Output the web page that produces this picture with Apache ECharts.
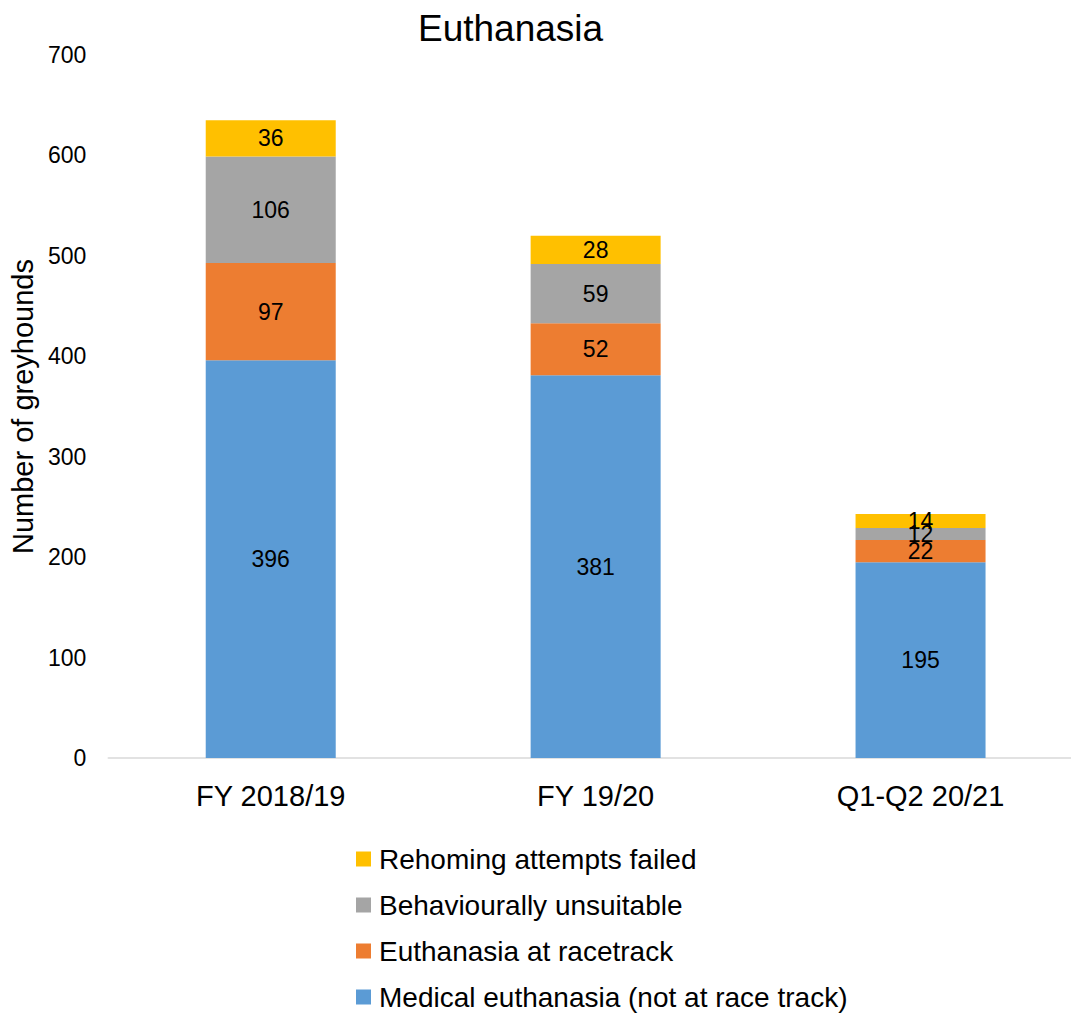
<!DOCTYPE html>
<html>
<head>
<meta charset="utf-8">
<script src="https://cdn.jsdelivr.net/npm/echarts@6/dist/echarts.min.js"></script>
<style>
  html, body { margin: 0; padding: 0; background: #fff; overflow: hidden; }
  #chartContainer { width: 1100px; height: 1015px; }
</style>
</head>
<body>
<div id="chartContainer"></div>
<script>
// data
const categories = ['FY 2018/19', 'FY 19/20', 'Q1-Q2 20/21'];
const medical = [396, 381, 195];
const racetrack = [97, 52, 22];
const behavioural = [106, 59, 12];
const rehoming = [36, 28, 14];
const yTicks = [0, 700, 100]; // min, max, step

const fontFamily = '"Liberation Sans", Arial, sans-serif';

var myChart = echarts.init(document.getElementById('chartContainer'), null, { renderer: 'svg' });

function makeSeries(name, data, color) {
    return {
        name: name,
        type: 'bar',
        stack: 'total',
        barWidth: 130,
        data: data,
        itemStyle: { color: color },
        label: {
            show: true,
            position: 'inside',
            color: '#000',
            fontSize: 23,
            fontFamily: fontFamily
        }
    };
}

myChart.setOption({
    animation: false,
    textStyle: { fontFamily: fontFamily },
    title: {
        text: 'Euthanasia',
        left: 413,
        top: 5,
        textStyle: { fontSize: 37, fontWeight: 'normal', color: '#000', fontFamily: fontFamily }
    },
    grid: { left: 108, top: 55, width: 975, height: 703 },
    legend: {
        orient: 'vertical',
        left: 351,
        top: 839,
        height: 200,
        itemWidth: 15,
        itemHeight: 15,
        itemGap: 16,
        icon: 'rect',
        data: ['Rehoming attempts failed', 'Behaviourally unsuitable', 'Euthanasia at racetrack', 'Medical euthanasia (not at race track)'],
        textStyle: { fontSize: 28, lineHeight: 30, color: '#000', padding: [0, 0, 0, 3], fontFamily: fontFamily }
    },
    xAxis: {
        type: 'category',
        data: categories,
        axisLine: { lineStyle: { color: '#d9d9d9', width: 1.5 } },
        axisTick: { show: false },
        axisLabel: { fontSize: 29, color: '#000', margin: 23, fontFamily: fontFamily }
    },
    yAxis: {
        type: 'value',
        min: yTicks[0],
        max: yTicks[1],
        interval: yTicks[2],
        name: 'Number of greyhounds',
        nameLocation: 'middle',
        nameGap: 60,
        nameTextStyle: { fontSize: 29, color: '#000', fontFamily: fontFamily },
        axisLine: { show: false },
        axisTick: { show: false },
        splitLine: { show: false },
        axisLabel: { fontSize: 23, color: '#000', margin: 22, fontFamily: fontFamily }
    },
    series: [
        makeSeries('Medical euthanasia (not at race track)', medical, '#5b9bd5'),
        makeSeries('Euthanasia at racetrack', racetrack, '#ed7d31'),
        makeSeries('Behaviourally unsuitable', behavioural, '#a5a5a5'),
        makeSeries('Rehoming attempts failed', rehoming, '#ffc000')
    ]
});
</script>
</body>
</html>
